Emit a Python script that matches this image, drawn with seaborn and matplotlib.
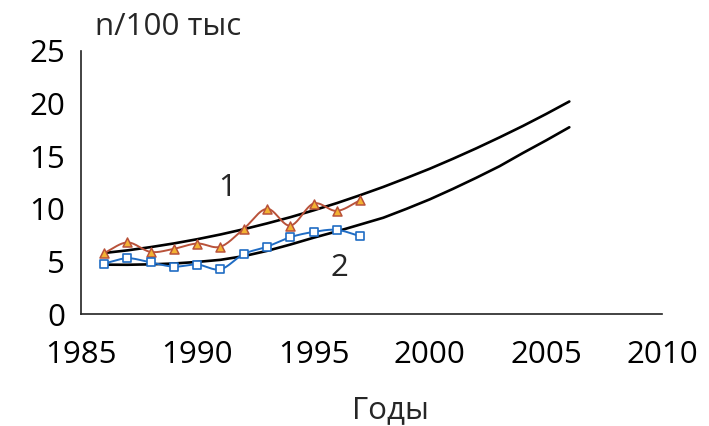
import numpy as np
import pandas as pd
import matplotlib
matplotlib.use("Agg")
import matplotlib.pyplot as plt
import seaborn as sns

# Observed incidence, per 100 thousand
years_obs = [1986, 1987, 1988, 1989, 1990, 1991, 1992, 1993, 1994, 1995, 1996, 1997]
series_1 = [5.8, 6.8, 5.9, 6.2, 6.7, 6.4, 8.1, 10.0, 8.4, 10.5, 9.8, 10.8]
series_2 = [4.8, 5.3, 4.9, 4.5, 4.7, 4.25, 5.7, 6.4, 7.3, 7.8, 8.0, 7.4]

# Trend curves with forecast to 2006
years_trend = list(range(1986, 2007))
trend_1 = [5.80, 6.05, 6.36, 6.71, 7.11, 7.56, 8.06, 8.61, 9.20, 9.85, 10.54,
           11.29, 12.08, 12.93, 13.81, 14.76, 15.75, 16.79, 17.87, 19.01, 20.20]
trend_2 = [4.69, 4.68, 4.72, 4.80, 4.95, 5.15, 5.50, 6.00, 6.60, 7.25, 7.85,
           8.50, 9.15, 10.00, 10.90, 11.90, 12.95, 14.05, 15.30, 16.50, 17.75]

x_ticks = [1985, 1990, 1995, 2000, 2005, 2010]
y_ticks = [0, 5, 10, 15, 20, 25]


def smooth(x, y, steps=24):
    """Catmull-Rom curve through the points, like a spreadsheet's smoothed line."""
    x = np.asarray(x, float)
    y = np.asarray(y, float)
    px = np.concatenate([[2 * x[0] - x[1]], x, [2 * x[-1] - x[-2]]])
    py = np.concatenate([[2 * y[0] - y[1]], y, [2 * y[-1] - y[-2]]])
    xs, ys = [], []
    s = np.linspace(0, 1, steps, endpoint=False)
    for i in range(1, len(px) - 2):
        for arr, out in ((px, xs), (py, ys)):
            p0, p1, p2, p3 = arr[i - 1], arr[i], arr[i + 1], arr[i + 2]
            out.extend(0.5 * ((2 * p1) + (-p0 + p2) * s
                              + (2 * p0 - 5 * p1 + 4 * p2 - p3) * s ** 2
                              + (-p0 + 3 * p1 - 3 * p2 + p3) * s ** 3))
    xs.append(x[-1])
    ys.append(y[-1])
    return np.array(xs), np.array(ys)


sns.set_theme(style="white")
plt.rcParams["font.family"] = ["Open Sans", "DejaVu Sans"]

fs = 22.5

fig = plt.figure(figsize=(7.09, 4.26), dpi=100)
ax = fig.add_axes([0.1142, 0.2629, 0.8200, 0.6174])

trend_df = pd.DataFrame({"year": years_trend, "t1": trend_1, "t2": trend_2})
sns.lineplot(data=trend_df, x="year", y="t1", ax=ax, color="black", lw=1.9)
sns.lineplot(data=trend_df, x="year", y="t2", ax=ax, color="black", lw=1.9)

red = "#b9523a"
blue = "#1f6cc4"

sx, sy = smooth(years_obs, series_1)
ax.plot(sx, sy, color=red, lw=1.4, zorder=3)
sx, sy = smooth(years_obs, series_2)
ax.plot(sx, sy, color=blue, lw=1.4, zorder=3)

obs_df = pd.DataFrame({"year": years_obs, "s1": series_1, "s2": series_2})
sns.scatterplot(data=obs_df, x="year", y="s1", ax=ax, marker="^", s=42,
                color="#f2b233", edgecolor=red, linewidth=1.1, zorder=4)
sns.scatterplot(data=obs_df, x="year", y="s2", ax=ax, marker="s", s=26,
                color="white", edgecolor=blue, linewidth=1.2, zorder=4)

ax.text(1991.3, 12.0, "1", fontsize=fs, ha="center", va="center")
ax.text(1996.1, 4.4, "2", fontsize=fs, ha="center", va="center")

ax.set_xlim(1985, 2010)
ax.set_ylim(0, 25)
ax.set_xticks(x_ticks)
ax.set_yticks(y_ticks)
ax.set_xlabel("")
ax.set_ylabel("")
for side in ("top", "right"):
    ax.spines[side].set_visible(False)
for side in ("left", "bottom"):
    ax.spines[side].set_color("#222222")
    ax.spines[side].set_linewidth(1.2)
ax.tick_params(axis="both", direction="out", length=6.5, width=1.1,
               color="#222222", labelsize=fs, labelcolor="black")
ax.tick_params(axis="x", pad=12)
ax.tick_params(axis="y", pad=5)

fig.text(95 / 709, 1 - 27 / 426, "n/100 тыс", fontsize=fs, ha="left", va="center")
fig.text(390 / 709, 1 - 410 / 426, "Годы", fontsize=fs, ha="center", va="center")

fig.savefig("out.png", dpi=100, facecolor="white")
